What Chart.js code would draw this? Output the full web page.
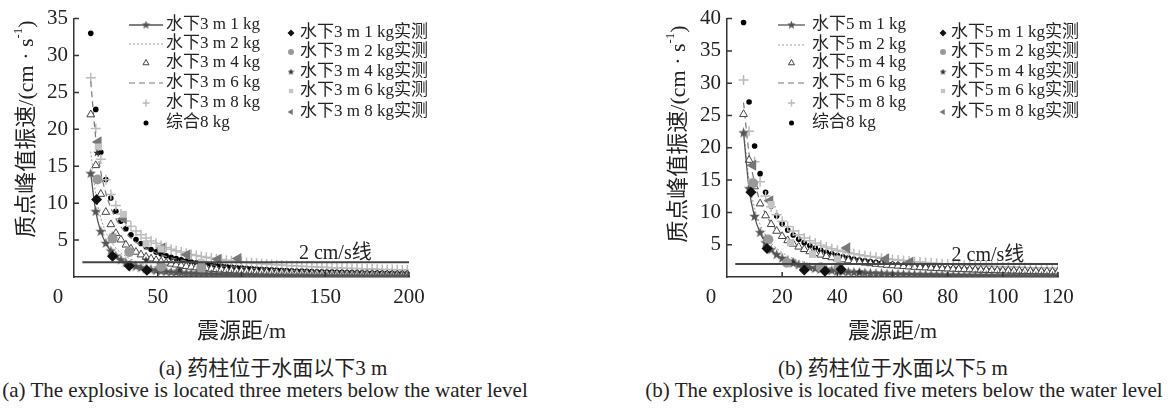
<!DOCTYPE html>
<html>
<head>
<meta charset="utf-8">
<script src="https://cdn.jsdelivr.net/npm/chart.js@4.4.0/dist/chart.umd.min.js"></script>
<style>
body { margin: 0; background: #fff; width: 1173px; height: 411px; overflow: hidden; position: relative; color: #222;
       font-family: "Liberation Serif", "Noto Sans CJK SC", serif; }
canvas { position: absolute; top: 0; }
#c3 { left: 0; }
#c5 { left: 600px; }
.cap { position: absolute; white-space: nowrap; line-height: 1; transform: translate(-50%, -50%); }
</style>
</head>
<body>
<canvas id="c3" width="586" height="350"></canvas>
<canvas id="c5" width="573" height="350"></canvas>
<div class="cap" style="left:273px;top:368px;font-size:21px">(a) 药柱位于水面以下3 m</div>
<div class="cap" style="left:265px;top:390px;font-size:21px">(a) The explosive is located three meters below the water level</div>
<div class="cap" style="left:893px;top:368px;font-size:21px">(b) 药柱位于水面以下5 m</div>
<div class="cap" style="left:904px;top:390px;font-size:21px">(b) The explosive is located five meters below the water level</div>
<script>
// ---- data ----
// (a) charge 3 m below water: predicted curves, distance in m, velocity in cm/s
const dist3 = [10,13,16,19,22,25,28,31,34,37,40,43,46,49,52,55,58,61,64,67,70,73,76,79,82,85,88,91,94,97,100,
  103,106,109,112,115,118,121,124,127,130,133,136,139,142,145,148,151,154,157,160,163,166,169,172,175,178,181,184,187,190,193,196,199];
const fit3_1kg = [14,8.85,6.15,4.55,3.52,2.82,2.31,1.93,1.64,1.42,1.24,1.09,0.97,0.87,0.78,0.71,0.65,0.59,0.54,0.50,0.46,0.43,0.40,0.38,0.35,0.33,0.31,0.29,0.28,0.26,0.25,
  0.24,0.23,0.21,0.20,0.19,0.19,0.18,0.17,0.16,0.16,0.15,0.15,0.14,0.13,0.13,0.13,0.12,0.12,0.11,0.11,0.11,0.10,0.10,0.10,0.09,0.09,0.09,0.09,0.08,0.08,0.08,0.08,0.07];
const fit3_2kg = [17,11.17,8.01,6.09,4.81,3.92,3.27,2.78,2.40,2.10,1.85,1.65,1.48,1.34,1.22,1.11,1.02,0.94,0.87,0.81,0.76,0.71,0.66,0.62,0.59,0.55,0.52,0.50,0.47,0.45,0.43,
  0.41,0.39,0.37,0.36,0.34,0.33,0.31,0.30,0.29,0.28,0.27,0.26,0.25,0.24,0.24,0.23,0.22,0.21,0.21,0.20,0.20,0.19,0.18,0.18,0.17,0.17,0.17,0.16,0.16,0.15,0.15,0.15,0.14];
const fit3_4kg = [22,15.12,11.23,8.79,7.12,5.93,5.05,4.36,3.82,3.39,3.03,2.73,2.48,2.27,2.08,1.92,1.78,1.66,1.55,1.45,1.36,1.28,1.21,1.15,1.09,1.03,0.98,0.93,0.89,0.85,0.82,
  0.79,0.75,0.72,0.69,0.67,0.65,0.62,0.60,0.58,0.56,0.54,0.53,0.51,0.49,0.48,0.47,0.45,0.44,0.43,0.42,0.41,0.39,0.39,0.37,0.37,0.36,0.35,0.34,0.33,0.33,0.32,0.31,0.31];
const fit3_6kg = [26.5,18.74,14.25,11.36,9.36,7.91,6.81,5.95,5.27,4.71,4.25,3.86,3.53,3.25,3.01,2.79,2.60,2.44,2.29,2.15,2.03,1.92,1.82,1.73,1.65,1.57,1.50,1.44,1.38,1.32,1.27,
  1.22,1.17,1.13,1.09,1.05,1.02,0.99,0.95,0.93,0.90,0.87,0.85,0.82,0.80,0.78,0.76,0.74,0.72,0.70,0.68,0.67,0.65,0.63,0.62,0.61,0.59,0.58,0.57,0.56,0.54,0.53,0.52,0.51];
const fit3_8kg = [27,20.1,15.95,13.16,11.16,9.68,8.52,7.60,6.86,6.24,5.72,5.27,4.89,4.56,4.26,4.00,3.77,3.56,3.38,3.21,3.05,2.91,2.79,2.67,2.56,2.46,2.36,2.28,2.19,2.12,2.05,
  1.98,1.92,1.86,1.80,1.75,1.70,1.65,1.61,1.57,1.53,1.49,1.45,1.42,1.38,1.35,1.32,1.29,1.26,1.24,1.21,1.19,1.16,1.14,1.12,1.09,1.07,1.05,1.03,1.02,1.00,0.98,0.96,0.95];
const fit3_all8 = [33,22.7,16.9,13.2,10.7,8.9,7.57,6.54,5.73,5.08,4.54,4.10,3.72,3.40,3.12,2.88,2.67,2.49,2.32,2.17,2.04,1.92,1.82,1.72,1.63,1.55,1.47,1.40,1.34,1.28,1.23,
  1.18,1.13,1.08,1.04,1.00,0.97,0.93,0.90,0.87,0.84,0.81,0.79,0.77,0.74,0.72,0.70,0.68,0.66,0.64,0.63,0.61,0.59,0.58,0.56,0.55,0.54,0.52,0.51,0.50,0.49,0.48,0.47,0.46];
// (a) measured points
const m3_1kg_x = [13.5, 23, 33, 43.5],            m3_1kg_y = [10.5, 2.8, 1.5, 0.9];
const m3_2kg_x = [14, 23, 33, 52, 76],            m3_2kg_y = [13.2, 5.2, 3.4, 1.4, 1.3];
const m3_4kg_x = [13.7, 23, 33, 43, 63],          m3_4kg_y = [16.8, 5.7, 3.2, 2.3, 1.0];
const m3_6kg_x = [14.5, 29.5, 43, 52, 76],        m3_6kg_y = [17.6, 8.5, 4.5, 3.8, 2.0];
const m3_8kg_x = [14.5, 29.5, 52.5, 67.5, 86, 98], m3_8kg_y = [18.3, 7.9, 3.9, 3.0, 2.4, 2.5];

// (b) charge 5 m below water
const dist5 = [6,8,10,12,14,16,18,20,22,24,26,28,30,32,34,36,38,40,42,44,46,48,50,52,54,56,58,60,62,64,66,68,70,72,74,76,78,80,
  82,84,86,88,90,92,94,96,98,100,102,104,106,108,110,112,114,116,118,120];
const fit5_1kg = [22.3,13.67,9.36,6.86,5.28,4.21,3.45,2.88,2.45,2.11,1.84,1.63,1.45,1.30,1.17,1.06,0.97,0.89,0.82,0.75,0.70,0.65,0.61,0.57,0.53,0.50,0.47,0.44,0.42,
  0.40,0.38,0.36,0.34,0.33,0.31,0.30,0.29,0.27,0.26,0.25,0.24,0.23,0.22,0.22,0.21,0.20,0.19,0.19,0.18,0.17,0.17,0.16,0.16,0.15,0.15,0.14,0.14,0.14];
const fit5_2kg = [23,14.94,10.69,8.13,6.45,5.28,4.43,3.78,3.28,2.88,2.55,2.28,2.06,1.87,1.70,1.56,1.44,1.34,1.24,1.16,1.08,1.02,0.96,0.90,0.85,0.81,0.77,0.73,0.69,
  0.66,0.63,0.60,0.58,0.55,0.53,0.51,0.49,0.47,0.45,0.44,0.42,0.41,0.40,0.38,0.37,0.36,0.35,0.34,0.33,0.32,0.31,0.30,0.29,0.29,0.28,0.27,0.26,0.26];
const fit5_4kg = [25.2,18.1,14.0,11.36,9.51,8.16,7.12,6.31,5.66,5.12,4.67,4.29,3.96,3.67,3.43,3.21,3.02,2.84,2.69,2.55,2.42,2.31,2.20,2.10,2.01,1.93,1.85,1.78,1.72,
  1.66,1.60,1.54,1.49,1.45,1.40,1.36,1.32,1.28,1.25,1.21,1.18,1.15,1.12,1.09,1.07,1.04,1.01,0.99,0.97,0.95,0.93,0.91,0.89,0.87,0.85,0.84,0.82,0.80];
const fit5_6kg = [27,19.12,14.63,11.75,9.77,8.32,7.23,6.37,5.68,5.12,4.65,4.25,3.91,3.62,3.37,3.14,2.95,2.77,2.61,2.47,2.34,2.23,2.12,2.02,1.93,1.85,1.77,1.70,1.64,
  1.58,1.52,1.47,1.42,1.37,1.33,1.28,1.24,1.21,1.17,1.14,1.11,1.08,1.05,1.02,0.99,0.97,0.95,0.92,0.90,0.88,0.86,0.84,0.82,0.81,0.79,0.77,0.76,0.74];
const fit5_8kg = [30.5,22.55,17.84,14.73,12.53,10.89,9.62,8.62,7.80,7.12,6.54,6.05,5.63,5.26,4.93,4.65,4.39,4.16,3.95,3.76,3.59,3.44,3.29,3.16,3.04,2.92,2.82,2.72,2.63,
  2.54,2.46,2.38,2.31,2.25,2.18,2.12,2.06,2.01,1.96,1.91,1.86,1.82,1.78,1.73,1.70,1.66,1.62,1.59,1.56,1.53,1.50,1.47,1.44,1.41,1.39,1.36,1.34,1.31];
const fit5_all8 = [39.4,27.1,20.28,16.0,13.1,11.0,9.44,8.23,7.28,6.50,5.86,5.32,4.86,4.47,4.13,3.84,3.58,3.35,3.14,2.96,2.79,2.64,2.50,2.38,2.26,2.16,2.06,1.97,1.89,
  1.82,1.74,1.68,1.62,1.56,1.50,1.45,1.40,1.36,1.32,1.28,1.24,1.20,1.17,1.13,1.10,1.07,1.04,1.02,0.99,0.97,0.94,0.92,0.90,0.88,0.86,0.84,0.82,0.80];
const m5_1kg_x = [8.7, 14.5, 28, 35.5, 41.3],    m5_1kg_y = [13.1, 4.4, 1.1, 0.9, 1.2];
const m5_2kg_x = [9.5, 15, 21.7, 34, 40.5],      m5_2kg_y = [14.5, 5.8, 2.2, 1.5, 1.6];
const m5_4kg_x = [8.5, 14, 24, 36, 48],          m5_4kg_y = [13.5, 6.0, 2.4, 1.2, 0.8];
const m5_6kg_x = [9, 16, 23, 31, 40],            m5_6kg_y = [14.7, 11.2, 5.3, 3.5, 2.8];
const m5_8kg_x = [9.4, 15.6, 43.5, 57.6, 66.4],  m5_8kg_y = [17.3, 11.8, 4.5, 2.8, 2.3];

const fitNames3 = ['水下3 m 1 kg', '水下3 m 2 kg', '水下3 m 4 kg', '水下3 m 6 kg', '水下3 m 8 kg', '综合8 kg'];
const measNames3 = ['水下3 m 1 kg实测', '水下3 m 2 kg实测', '水下3 m 4 kg实测', '水下3 m 6 kg实测', '水下3 m 8 kg实测'];
const fitNames5 = ['水下5 m 1 kg', '水下5 m 2 kg', '水下5 m 4 kg', '水下5 m 6 kg', '水下5 m 8 kg', '综合8 kg'];
const measNames5 = ['水下5 m 1 kg实测', '水下5 m 2 kg实测', '水下5 m 4 kg实测', '水下5 m 6 kg实测', '水下5 m 8 kg实测'];
const limitValue = 2;
const limitText = '2 cm/s线';
const xTitle = '震源距/m';
const yTitle = '质点峰值振速/(cm · s';

// ---- drawing ----
const FONT = '"Liberation Serif", "Noto Sans CJK SC", serif';
Chart.defaults.font.family = FONT;
Chart.defaults.color = '#222';

function starImage(size, color) {
    let c = document.createElement('canvas');
    c.width = c.height = size;
    let g = c.getContext('2d');
    let r = size / 2, ri = r * 0.42;
    g.beginPath();
    for (let i = 0; i < 10; i++) {
        let rr = i % 2 ? ri : r;
        let a = -Math.PI / 2 + i * Math.PI / 5;
        g.lineTo(r + rr * Math.cos(a), r + rr * Math.sin(a));
    }
    g.closePath();
    g.fillStyle = color;
    g.fill();
    return c;
}

let pts = (xs, ys) => xs.map((x, i) => ({x: x, y: ys[i]}));

const starBig = starImage(11, '#555');
const starSmall = starImage(8, '#333');

const fitStyles = [
    {showLine: true, borderColor: '#555', borderWidth: 1.3, pointStyle: starBig, pointRadius: 5, legendR: 4},
    {showLine: true, borderColor: '#9a9a9a', borderWidth: 1, borderDash: [2, 2], pointRadius: 0},
    {showLine: false, pointStyle: 'triangle', pointRadius: 4.5, pointBackgroundColor: '#fff', pointBorderColor: '#444', pointBorderWidth: 1, legendR: 3.5},
    {showLine: true, borderColor: '#777', borderWidth: 1.2, borderDash: [6, 4], pointRadius: 0},
    {showLine: false, pointStyle: 'cross', pointRadius: 5, pointBorderColor: '#bbb', pointBorderWidth: 1.5, legendR: 3.5},
    {showLine: false, pointStyle: 'circle', pointRadius: 2.8, pointBackgroundColor: '#000', pointBorderColor: '#000', pointBorderWidth: 0, legendR: 2.5}
];
const measStyles = [
    {pointStyle: 'rectRot', pointRadius: 5.5, pointBackgroundColor: '#111', pointBorderColor: '#111', legendR: 3.5},
    {pointStyle: 'circle', pointRadius: 5, pointBackgroundColor: '#999', pointBorderColor: '#999', legendR: 3},
    {pointStyle: starSmall, pointRadius: 4, legendR: 3},
    {pointStyle: 'rect', pointRadius: 5, pointBackgroundColor: '#c4c4c4', pointBorderColor: '#c4c4c4', legendR: 3},
    {pointStyle: 'triangle', pointRotation: 270, pointRadius: 6.5, pointBackgroundColor: '#777', pointBorderColor: '#777', legendR: 3.5}
];

function buildDatasets(dist, fits, measX, measY, fitNames, measNames, limitFrom, limitTo) {
    let out = [];
    fits.forEach((vals, i) => {
        out.push(Object.assign({label: fitNames[i], data: pts(dist, vals), order: 2, legendCol: 1,
            cubicInterpolationMode: 'monotone', fill: false}, fitStyles[i]));
    });
    measX.forEach((xs, i) => {
        out.push(Object.assign({label: measNames[i], data: pts(xs, measY[i]), order: 1, legendCol: 2,
            showLine: false, pointBorderWidth: 0}, measStyles[i]));
    });
    out.push({label: limitText, data: [{x: limitFrom, y: limitValue}, {x: limitTo, y: limitValue}],
        showLine: true, borderColor: '#444', borderWidth: 2, pointRadius: 0, order: 0});
    return out;
}

const decor = {
    id: 'decor',
    afterDatasetsDraw(chart, args, o) {
        let ctx = chart.ctx, xs = chart.scales.x, ys = chart.scales.y;
        ctx.save();
        // inward tick marks
        ctx.strokeStyle = '#333';
        ctx.lineWidth = 1.5;
        ctx.setLineDash([]);
        ctx.beginPath();
        xs.ticks.forEach(t => {
            if (t.value > 0) { let p = xs.getPixelForValue(t.value); ctx.moveTo(p, ys.bottom); ctx.lineTo(p, ys.bottom - 5); }
        });
        ys.ticks.forEach(t => {
            if (t.value > 0) { let p = ys.getPixelForValue(t.value); ctx.moveTo(xs.left, p); ctx.lineTo(xs.left + 5, p); }
        });
        ctx.stroke();

        ctx.fillStyle = '#222';
        ctx.textAlign = 'center';
        ctx.textBaseline = 'middle';
        ctx.font = '21px ' + FONT;
        ctx.fillText('0', xs.left - 16, ys.bottom + 20);
        ctx.font = '20px ' + FONT;
        ctx.textBaseline = 'alphabetic';
        ctx.fillText(limitText, xs.getPixelForValue(o.limitTextX), ys.getPixelForValue(limitValue) - 3);

        // rotated y title with superscript
        ctx.save();
        ctx.translate(o.titleX, o.titleY);
        ctx.rotate(-Math.PI / 2);
        ctx.textAlign = 'left';
        ctx.textBaseline = 'middle';
        ctx.font = '22px ' + FONT;
        let w1 = ctx.measureText(yTitle).width, w3 = ctx.measureText(')').width;
        ctx.font = '13px ' + FONT;
        let w2 = ctx.measureText('-1').width;
        let x0 = -(w1 + w2 + w3) / 2;
        ctx.font = '22px ' + FONT;
        ctx.fillText(yTitle, x0, 0);
        ctx.fillText(')', x0 + w1 + w2, 0);
        ctx.font = '13px ' + FONT;
        ctx.fillText('-1', x0 + w1, -8);
        ctx.restore();

        // legend, two columns
        let idx = {1: 0, 2: 0};
        ctx.font = '17px ' + FONT;
        ctx.textAlign = 'left';
        ctx.textBaseline = 'middle';
        chart.data.datasets.forEach(ds => {
            if (!ds.legendCol) return;
            let col = ds.legendCol === 1 ? o.col1 : o.col2;
            let y = col.rows[idx[ds.legendCol]++];
            let cx = (col.x1 + col.x2) / 2;
            if (ds.showLine) {
                ctx.save();
                ctx.strokeStyle = ds.borderColor;
                ctx.lineWidth = ds.borderWidth;
                ctx.setLineDash(ds.borderDash || []);
                ctx.beginPath();
                ctx.moveTo(col.x1, y);
                ctx.lineTo(col.x2, y);
                ctx.stroke();
                ctx.restore();
            }
            if (ds.legendR) {
                ctx.save();
                ctx.fillStyle = ds.pointBackgroundColor || '#333';
                ctx.strokeStyle = ds.pointBorderColor || '#333';
                ctx.lineWidth = ds.pointBorderWidth || 0;
                let style = ds.pointStyle;
                if (typeof style !== 'string') style = ds.legendCol === 1 ? starImage(9, '#555') : starImage(7, '#333');
                Chart.helpers.drawPoint(ctx, {pointStyle: style, radius: ds.legendR, rotation: ds.pointRotation || 0,
                    borderWidth: ds.pointBorderWidth || 0}, cx, y);
                ctx.restore();
            }
            ctx.fillStyle = '#222';
            ctx.fillText(ds.label, col.tx, y);
        });
        ctx.restore();
    }
};

function axisOptions(xMax, xStep, yMax, yWidth) {
    return {
        x: {
            type: 'linear', min: 0, max: xMax,
            grid: {display: false, drawTicks: false},
            border: {color: '#333', width: 1.5},
            ticks: {stepSize: xStep, padding: 8, font: {size: 21}, color: '#222', callback: v => v === 0 ? '' : v},
            title: {display: true, text: xTitle, font: {size: 22}, color: '#222', padding: {top: 0, bottom: 5}},
            afterFit: s => { s.height = 73; }
        },
        y: {
            min: 0, max: yMax,
            grid: {display: false, drawTicks: false},
            border: {color: '#333', width: 1.5},
            ticks: {stepSize: 5, padding: 6, font: {size: 21}, color: '#222', callback: v => v === 0 ? '' : v},
            afterFit: s => { s.width = yWidth; }
        }
    };
}

new Chart(document.getElementById('c3'), {
    type: 'scatter',
    data: {
        datasets: buildDatasets(dist3, [fit3_1kg, fit3_2kg, fit3_4kg, fit3_6kg, fit3_8kg, fit3_all8],
            [m3_1kg_x, m3_2kg_x, m3_4kg_x, m3_6kg_x, m3_8kg_x], [m3_1kg_y, m3_2kg_y, m3_4kg_y, m3_6kg_y, m3_8kg_y],
            fitNames3, measNames3, 5, 200)
    },
    options: {
        responsive: false,
        animation: false,
        events: [],
        layout: {padding: {left: 0, top: 18, right: 177, bottom: 0}},
        scales: axisOptions(200, 50, 35, 74),
        plugins: {
            legend: {display: false},
            tooltip: {enabled: false},
            decor: {
                titleX: 27, titleY: 129, limitTextX: 156,
                col1: {x1: 129, x2: 163, tx: 166, rows: [25, 44, 63, 83, 103, 123]},
                col2: {x1: 291, x2: 291, tx: 300, rows: [33, 52, 72, 91, 112]}
            }
        }
    },
    plugins: [decor]
});

new Chart(document.getElementById('c5'), {
    type: 'scatter',
    data: {
        datasets: buildDatasets(dist5, [fit5_1kg, fit5_2kg, fit5_4kg, fit5_6kg, fit5_8kg, fit5_all8],
            [m5_1kg_x, m5_2kg_x, m5_4kg_x, m5_6kg_x, m5_8kg_x], [m5_1kg_y, m5_2kg_y, m5_4kg_y, m5_6kg_y, m5_8kg_y],
            fitNames5, measNames5, 3, 120)
    },
    options: {
        responsive: false,
        animation: false,
        events: [],
        layout: {padding: {left: 0, top: 17, right: 115, bottom: 0}},
        scales: axisOptions(120, 20, 40, 127),
        plugins: {
            legend: {display: false},
            tooltip: {enabled: false},
            decor: {
                titleX: 79, titleY: 134, limitTextX: 94.6,
                col1: {x1: 178, x2: 205, tx: 212, rows: [25, 45, 63, 83, 103, 123]},
                col2: {x1: 343, x2: 343, tx: 351, rows: [33, 52, 72, 91, 112]}
            }
        }
    },
    plugins: [decor]
});
</script>
</body>
</html>
